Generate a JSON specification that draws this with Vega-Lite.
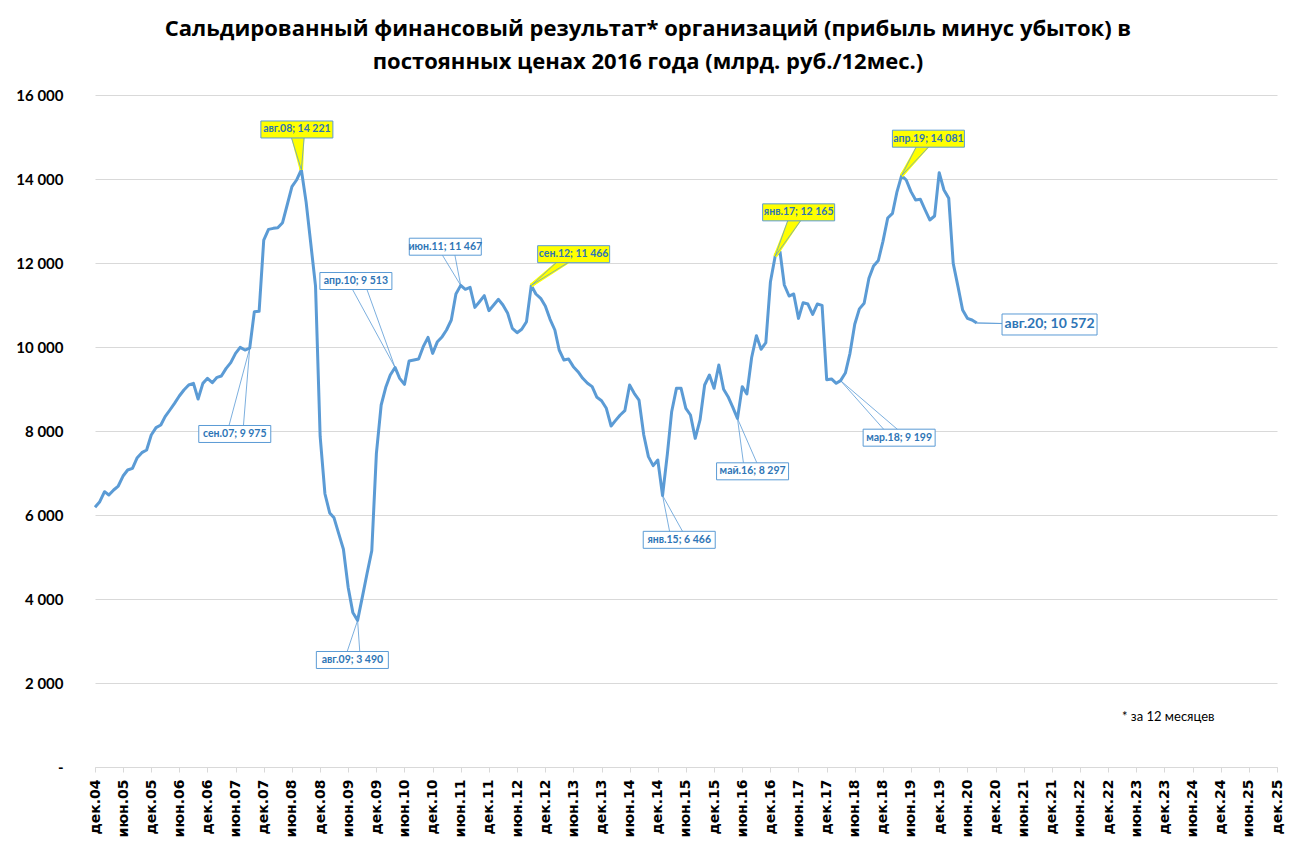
{
  "$schema": "https://vega.github.io/schema/vega-lite/v6.json",
  "width": 1182,
  "height": 672,
  "autosize": {"type": "none"},
  "padding": {"left": 95, "top": 95, "right": 18, "bottom": 80},
  "background": "white",
  "config": {"view": {"stroke": null}, "axis": {"labelOverlap": false}},
  "title": {
    "text": ["Сальдированный финансовый результат* организаций (прибыль минус убыток) в", "постоянных ценах 2016 года (млрд. руб./12мес.)"],
    "font": "Open Sans", "fontSize": 22, "fontWeight": "bold", "color": "black",
    "anchor": "middle", "frame": "group", "dx": -38, "offset": 14, "lineHeight": 33
  },
  "datasets": {
    "series": [
      {"date":"2004-12","value":6183},{"date":"2005-01","value":6317},{"date":"2005-02","value":6555},{"date":"2005-03","value":6475},
      {"date":"2005-04","value":6595},{"date":"2005-05","value":6690},{"date":"2005-06","value":6928},{"date":"2005-07","value":7071},
      {"date":"2005-08","value":7110},{"date":"2005-09","value":7365},{"date":"2005-10","value":7484},{"date":"2005-11","value":7547},
      {"date":"2005-12","value":7904},{"date":"2006-01","value":8079},{"date":"2006-02","value":8142},{"date":"2006-03","value":8341},
      {"date":"2006-04","value":8500},{"date":"2006-05","value":8658},{"date":"2006-06","value":8833},{"date":"2006-07","value":8976},
      {"date":"2006-08","value":9095},{"date":"2006-09","value":9134},{"date":"2006-10","value":8761},{"date":"2006-11","value":9134},
      {"date":"2006-12","value":9254},{"date":"2007-01","value":9150},{"date":"2007-02","value":9277},{"date":"2007-03","value":9309},
      {"date":"2007-04","value":9492},{"date":"2007-05","value":9627},{"date":"2007-06","value":9849},{"date":"2007-07","value":9992},
      {"date":"2007-08","value":9928},{"date":"2007-09","value":9975},{"date":"2007-10","value":10841},{"date":"2007-11","value":10850},
      {"date":"2007-12","value":12547},{"date":"2008-01","value":12801},{"date":"2008-02","value":12825},{"date":"2008-03","value":12840},
      {"date":"2008-04","value":12960},{"date":"2008-05","value":13381},{"date":"2008-06","value":13817},{"date":"2008-07","value":13976},
      {"date":"2008-08","value":14221},{"date":"2008-09","value":13450},{"date":"2008-10","value":12470},{"date":"2008-11","value":11450},
      {"date":"2008-12","value":7870},{"date":"2009-01","value":6506},{"date":"2009-02","value":6050},{"date":"2009-03","value":5932},
      {"date":"2009-04","value":5549},{"date":"2009-05","value":5185},{"date":"2009-06","value":4273},{"date":"2009-07","value":3681},
      {"date":"2009-08","value":3490},{"date":"2009-09","value":4050},{"date":"2009-10","value":4600},{"date":"2009-11","value":5150},
      {"date":"2009-12","value":7468},{"date":"2010-01","value":8619},{"date":"2010-02","value":9056},{"date":"2010-03","value":9333},
      {"date":"2010-04","value":9513},{"date":"2010-05","value":9254},{"date":"2010-06","value":9111},{"date":"2010-07","value":9667},
      {"date":"2010-08","value":9690},{"date":"2010-09","value":9714},{"date":"2010-10","value":10008},{"date":"2010-11","value":10230},
      {"date":"2010-12","value":9849},{"date":"2011-01","value":10127},{"date":"2011-02","value":10246},{"date":"2011-03","value":10405},
      {"date":"2011-04","value":10643},{"date":"2011-05","value":11262},{"date":"2011-06","value":11467},{"date":"2011-07","value":11373},
      {"date":"2011-08","value":11421},{"date":"2011-09","value":10944},{"date":"2011-10","value":11079},{"date":"2011-11","value":11222},
      {"date":"2011-12","value":10865},{"date":"2012-01","value":11000},{"date":"2012-02","value":11135},{"date":"2012-03","value":11000},
      {"date":"2012-04","value":10802},{"date":"2012-05","value":10444},{"date":"2012-06","value":10341},{"date":"2012-07","value":10421},
      {"date":"2012-08","value":10603},{"date":"2012-09","value":11466},{"date":"2012-10","value":11262},{"date":"2012-11","value":11159},
      {"date":"2012-12","value":10976},{"date":"2013-01","value":10659},{"date":"2013-02","value":10405},{"date":"2013-03","value":9929},
      {"date":"2013-04","value":9690},{"date":"2013-05","value":9714},{"date":"2013-06","value":9532},{"date":"2013-07","value":9413},
      {"date":"2013-08","value":9254},{"date":"2013-09","value":9135},{"date":"2013-10","value":9056},{"date":"2013-11","value":8802},
      {"date":"2013-12","value":8722},{"date":"2014-01","value":8540},{"date":"2014-02","value":8119},{"date":"2014-03","value":8246},
      {"date":"2014-04","value":8381},{"date":"2014-05","value":8484},{"date":"2014-06","value":9095},{"date":"2014-07","value":8897},
      {"date":"2014-08","value":8738},{"date":"2014-09","value":7905},{"date":"2014-10","value":7389},{"date":"2014-11","value":7175},
      {"date":"2014-12","value":7309},{"date":"2015-01","value":6466},{"date":"2015-02","value":7450},{"date":"2015-03","value":8460},
      {"date":"2015-04","value":9016},{"date":"2015-05","value":9016},{"date":"2015-06","value":8540},{"date":"2015-07","value":8381},
      {"date":"2015-08","value":7825},{"date":"2015-09","value":8262},{"date":"2015-10","value":9095},{"date":"2015-11","value":9333},
      {"date":"2015-12","value":9016},{"date":"2016-01","value":9572},{"date":"2016-02","value":8992},{"date":"2016-03","value":8817},
      {"date":"2016-04","value":8564},{"date":"2016-05","value":8297},{"date":"2016-06","value":9056},{"date":"2016-07","value":8881},
      {"date":"2016-08","value":9750},{"date":"2016-09","value":10270},{"date":"2016-10","value":9945},{"date":"2016-11","value":10105},
      {"date":"2016-12","value":11555},{"date":"2017-01","value":12165},{"date":"2017-02","value":12270},{"date":"2017-03","value":11476},
      {"date":"2017-04","value":11214},{"date":"2017-05","value":11262},{"date":"2017-06","value":10682},{"date":"2017-07","value":11055},
      {"date":"2017-08","value":11023},{"date":"2017-09","value":10777},{"date":"2017-10","value":11023},{"date":"2017-11","value":10990},
      {"date":"2017-12","value":9220},{"date":"2018-01","value":9240},{"date":"2018-02","value":9135},{"date":"2018-03","value":9199},
      {"date":"2018-04","value":9380},{"date":"2018-05","value":9849},{"date":"2018-06","value":10543},{"date":"2018-07","value":10908},
      {"date":"2018-08","value":11040},{"date":"2018-09","value":11635},{"date":"2018-10","value":11930},{"date":"2018-11","value":12060},
      {"date":"2018-12","value":12516},{"date":"2019-01","value":13070},{"date":"2019-02","value":13183},{"date":"2019-03","value":13680},
      {"date":"2019-04","value":14081},{"date":"2019-05","value":13976},{"date":"2019-06","value":13699},{"date":"2019-07","value":13500},
      {"date":"2019-08","value":13516},{"date":"2019-09","value":13262},{"date":"2019-10","value":13024},{"date":"2019-11","value":13119},
      {"date":"2019-12","value":14151},{"date":"2020-01","value":13738},{"date":"2020-02","value":13540},{"date":"2020-03","value":11992},
      {"date":"2020-04","value":11437},{"date":"2020-05","value":10881},{"date":"2020-06","value":10683},{"date":"2020-07","value":10643},
      {"date":"2020-08","value":10572}
    ],
    "notes": [
      {"date":"2008-08","value":14221,"label":"авг.08; 14 221","ldate":"2008-07-03","lvalue":15179,"kind":"peak"},
      {"date":"2007-09","value":9975,"label":"сен.07; 9 975","ldate":"2007-05-27","lvalue":7929,"kind":"point"},
      {"date":"2009-08","value":3490,"label":"авг.09; 3 490","ldate":"2009-06-28","lvalue":2548,"kind":"point"},
      {"date":"2010-04","value":9513,"label":"апр.10; 9 513","ldate":"2009-07-21","lvalue":11571,"kind":"point"},
      {"date":"2011-06","value":11467,"label":"июн.11; 11 467","ldate":"2011-02-21","lvalue":12388,"kind":"point"},
      {"date":"2012-09","value":11466,"label":"сен.12; 11 466","ldate":"2013-06-03","lvalue":12210,"kind":"peak"},
      {"date":"2015-01","value":6466,"label":"янв.15; 6 466","ldate":"2015-04-19","lvalue":5409,"kind":"point"},
      {"date":"2016-05","value":8297,"label":"май.16; 8 297","ldate":"2016-08-07","lvalue":7040,"kind":"point"},
      {"date":"2017-01","value":12165,"label":"янв.17; 12 165","ldate":"2017-06-02","lvalue":13206,"kind":"peak"},
      {"date":"2018-03","value":9199,"label":"мар.18; 9 199","ldate":"2019-03-16","lvalue":7841,"kind":"point"},
      {"date":"2019-04","value":14081,"label":"апр.19; 14 081","ldate":"2019-09-22","lvalue":14960,"kind":"peak"},
      {"date":"2020-08","value":10572,"label":"авг.20;  10 572","ldate":"2021-11-16","lvalue":10536,"kind":"last"}
    ]
  },
  "layer": [
    {
      "data": {"name": "series"},
      "mark": {"type": "line", "color": "#5B9BD5", "strokeWidth": 3, "strokeJoin": "round"},
      "encoding": {
        "x": {
          "field": "date", "type": "temporal", "title": null,
          "scale": {"domain": [{"year":2004,"month":12,"date":1},{"year":2025,"month":12,"date":1}], "nice": false},
          "axis": {
            "title": null, "grid": false, "tickCount": 200,
            "values": [
              {"year":2004,"month":12,"date":1},{"year":2005,"month":6,"date":1},{"year":2005,"month":12,"date":1},
              {"year":2006,"month":6,"date":1},{"year":2006,"month":12,"date":1},{"year":2007,"month":6,"date":1},
              {"year":2007,"month":12,"date":1},{"year":2008,"month":6,"date":1},{"year":2008,"month":12,"date":1},
              {"year":2009,"month":6,"date":1},{"year":2009,"month":12,"date":1},{"year":2010,"month":6,"date":1},
              {"year":2010,"month":12,"date":1},{"year":2011,"month":6,"date":1},{"year":2011,"month":12,"date":1},
              {"year":2012,"month":6,"date":1},{"year":2012,"month":12,"date":1},{"year":2013,"month":6,"date":1},
              {"year":2013,"month":12,"date":1},{"year":2014,"month":6,"date":1},{"year":2014,"month":12,"date":1},
              {"year":2015,"month":6,"date":1},{"year":2015,"month":12,"date":1},{"year":2016,"month":6,"date":1},
              {"year":2016,"month":12,"date":1},{"year":2017,"month":6,"date":1},{"year":2017,"month":12,"date":1},
              {"year":2018,"month":6,"date":1},{"year":2018,"month":12,"date":1},{"year":2019,"month":6,"date":1},
              {"year":2019,"month":12,"date":1},{"year":2020,"month":6,"date":1},{"year":2020,"month":12,"date":1},
              {"year":2021,"month":6,"date":1},{"year":2021,"month":12,"date":1},{"year":2022,"month":6,"date":1},
              {"year":2022,"month":12,"date":1},{"year":2023,"month":6,"date":1},{"year":2023,"month":12,"date":1},
              {"year":2024,"month":6,"date":1},{"year":2024,"month":12,"date":1},{"year":2025,"month":6,"date":1},
              {"year":2025,"month":12,"date":1}
            ],
            "labelExpr": "(month(datum.value) == 11 ? 'дек.' : 'июн.') + timeFormat(datum.value, '%y')",
            "labelAngle": -90, "labelAlign": "right", "labelBaseline": "middle",
            "labelFont": "DejaVu Sans", "labelFontSize": 14, "labelFontWeight": "bold", "labelColor": "black",
            "labelPadding": 7, "labelOverlap": false, "labelFlush": false, "labelBound": false,
            "domainColor": "#D9D9D9", "domainWidth": 1, "tickColor": "#D9D9D9", "tickSize": 5, "tickWidth": 1
          }
        },
        "y": {
          "field": "value", "type": "quantitative", "title": null,
          "scale": {"domain": [0, 16000], "nice": false, "zero": true},
          "axis": {
            "title": null, "values": [0,2000,4000,6000,8000,10000,12000,14000,16000], "tickCount": 20,
            "labelExpr": "datum.value == 0 ? '-\u2007\u2007' : replace(format(datum.value, ','), ',', ' ')",
            "labelFont": "Lato", "labelFontSize": 15, "labelFontWeight": "bold", "labelColor": "black",
            "labelPadding": 32, "domain": false, "ticks": false,
            "grid": true, "gridColor": "#D9D9D9", "gridWidth": 1
          }
        }
      }
    },
    {
      "data": {"name": "notes"},
      "transform": [{"filter": "datum.kind == 'peak'"}],
      "layer": [
        {"mark": {"type": "rule", "color": "#FFFF00", "strokeWidth": 3.5, "x2Offset": -6}},
        {"mark": {"type": "rule", "color": "#FFFF00", "strokeWidth": 3.5, "x2Offset": -2}},
        {"mark": {"type": "rule", "color": "#FFFF00", "strokeWidth": 3.5, "x2Offset": 2}},
        {"mark": {"type": "rule", "color": "#FFFF00", "strokeWidth": 3.5, "x2Offset": 6}}
      ],
      "encoding": {
        "x": {"field": "date", "type": "temporal", "title": null},
        "y": {"field": "value", "type": "quantitative", "title": null},
        "x2": {"field": "ldate"},
        "y2": {"field": "lvalue"}
      }
    },
    {
      "data": {"name": "notes"},
      "layer": [
        {"mark": {"type": "rule", "color": "#5B9BD5", "strokeWidth": 0.8, "x2Offset": -8}},
        {"mark": {"type": "rule", "color": "#5B9BD5", "strokeWidth": 0.8, "x2Offset": 8}}
      ],
      "encoding": {
        "x": {"field": "date", "type": "temporal", "title": null},
        "y": {"field": "value", "type": "quantitative", "title": null},
        "x2": {"field": "ldate"},
        "y2": {"field": "lvalue"}
      }
    },
    {
      "data": {"name": "notes"},
      "transform": [{"filter": "datum.kind != 'last'"}],
      "layer": [
        {
          "mark": {"type": "point", "shape": "M-1,-0.236H1V0.236H-1Z", "size": 5184, "filled": true, "opacity": 1, "stroke": "#5B9BD5", "strokeWidth": 1},
          "encoding": {"fill": {"condition": {"test": "datum.kind == 'peak'", "value": "#FFFF00"}, "value": "white"}}
        },
        {
          "mark": {"type": "text", "font": "Lato", "fontSize": 10.5, "fontWeight": "bold", "color": "#2E75B6", "align": "center", "baseline": "middle"},
          "encoding": {"text": {"field": "label"}}
        }
      ],
      "encoding": {
        "x": {"field": "ldate", "type": "temporal", "title": null},
        "y": {"field": "lvalue", "type": "quantitative", "title": null}
      }
    },
    {
      "data": {"name": "notes"},
      "transform": [{"filter": "datum.kind == 'last'"}],
      "layer": [
        {
          "mark": {"type": "point", "shape": "M-1,-0.221H1V0.221H-1Z", "size": 9025, "filled": true, "opacity": 1, "fill": "white", "stroke": "#5B9BD5", "strokeWidth": 1}
        },
        {
          "mark": {"type": "text", "font": "Lato", "fontSize": 14, "fontWeight": "bold", "color": "#2E75B6", "align": "center", "baseline": "middle"},
          "encoding": {"text": {"field": "label"}}
        }
      ],
      "encoding": {
        "x": {"field": "ldate", "type": "temporal", "title": null},
        "y": {"field": "lvalue", "type": "quantitative", "title": null}
      }
    },
    {
      "data": {"values": [{}]},
      "mark": {"type": "text", "font": "Lato", "fontSize": 13, "color": "black", "align": "left", "baseline": "middle", "text": "* за 12 месяцев"},
      "encoding": {
        "x": {"datum": {"year": 2023, "month": 3, "date": 1}, "type": "temporal", "title": null},
        "y": {"datum": 1190, "type": "quantitative", "title": null}
      }
    }
  ]
}
